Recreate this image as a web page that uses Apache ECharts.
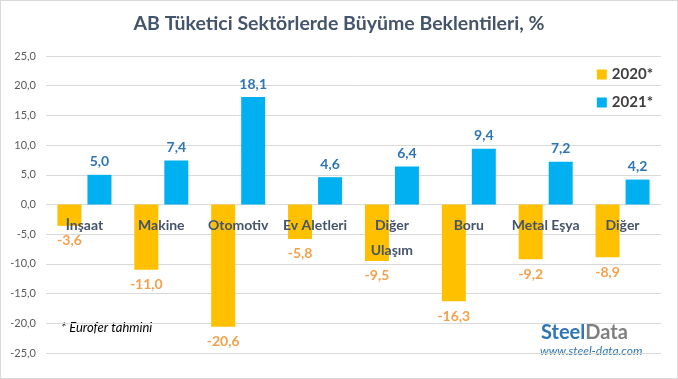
<!DOCTYPE html>
<html><head><meta charset="utf-8">
<script src="https://cdn.jsdelivr.net/npm/echarts@6/dist/echarts.min.js"></script>
<style>html,body{margin:0;padding:0;background:#fff}#c{width:678px;height:379px;box-sizing:border-box;border:1px solid #d9d9d9}</style>
</head><body><div id="c"></div>
<script>
const categories = ['İnşaat','Makine','Otomotiv','Ev Aletleri','Diğer\nUlaşım','Boru','Metal Eşya','Diğer'];
const values2020 = [-3.6,-11.0,-20.6,-5.8,-9.5,-16.3,-9.2,-8.9];
const values2021 = [5.0,7.4,18.1,4.6,6.4,9.4,7.2,4.2];
const seriesNames = ['2020*','2021*'];
const yTicks = {min:-25,max:25,interval:5};
const fmt = v => v.toFixed(1).replace('.',',');
const F = 'Lato, "Open Sans", sans-serif';
const gridTop = 55, gridBottom = 25, H = 379;
const plotH = H - gridTop - gridBottom;
const zeroOffset = -plotH * (0 - yTicks.min) / (yTicks.max - yTicks.min);
const chart = echarts.init(document.getElementById('c'));
chart.setOption({
  animation:false,
  textStyle:{fontFamily:F},
  title:{text:'AB Tüketici Sektörlerde Büyüme Beklentileri, %',left:'center',top:8,
    textStyle:{fontFamily:F,fontSize:19.5,fontWeight:'bold',color:'#44546A'}},
  legend:{orient:'vertical',right:19,top:61,itemWidth:10,itemHeight:10,itemGap:13,icon:'rect',
    data:seriesNames,textStyle:{fontFamily:F,fontSize:15,fontWeight:'bold',color:'#404040'}},
  grid:{left:45,right:16,top:gridTop,bottom:gridBottom,containLabel:false,outerBoundsMode:'none'},
  xAxis:{type:'category',data:categories,z:10,position:'bottom',offset:zeroOffset,
    axisLine:{show:false,onZero:false},axisTick:{show:false},
    axisLabel:{interval:0,margin:9,fontFamily:F,fontSize:14,fontWeight:'bold',color:'#44546A',lineHeight:25,verticalAlign:'top'}},
  yAxis:{type:'value',min:yTicks.min,max:yTicks.max,interval:yTicks.interval,
    axisLine:{show:false},axisTick:{show:false},
    splitLine:{lineStyle:{color:'#d9d9d9'}},
    axisLabel:{formatter:v=>fmt(v),margin:10,fontFamily:F,fontSize:11,color:'#595959'}},
  series:[
    {name:seriesNames[0],type:'bar',data:values2020,barWidth:24,barGap:'25%',
     itemStyle:{color:'#FFC000'},
     label:{show:true,position:'bottom',distance:8,formatter:p=>fmt(p.value),
       fontFamily:F,fontSize:14,fontWeight:'bold',color:'#F4A04A'}},
    {name:seriesNames[1],type:'bar',data:values2021,barWidth:24,
     itemStyle:{color:'#00B0F0'},
     label:{show:true,position:'top',distance:6,formatter:p=>fmt(p.value),
       fontFamily:F,fontSize:14,fontWeight:'bold',color:'#2E75B6'}}
  ],
  graphic:[
    {type:'text',left:60,top:320,style:{text:'* Eurofer tahmini',font:'italic 13px '+F,fill:'#000'}},
    {type:'text',left:540,top:322,style:{
      text:'{a|Steel}{b|Data}',rich:{a:{font:'bold 20px '+F,fill:'#2E75B6'},b:{font:'bold 20px '+F,fill:'#7F7F7F'}}}},
    {type:'text',left:539,top:344,style:{text:'www.steel-data.com',font:'italic 12px '+F,fill:'#2E75B6'}}
  ]
});
</script></body></html>
